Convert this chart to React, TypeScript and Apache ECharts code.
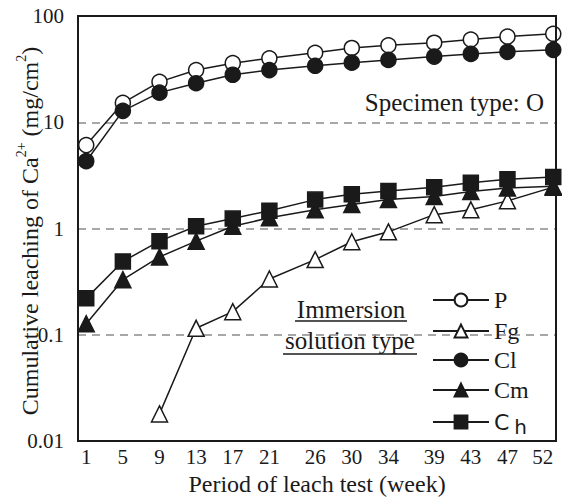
import React, { useEffect, useRef } from "react";
import * as echarts from "echarts";

const weeks = [1, 5, 9, 13, 17, 21, 26, 30, 34, 39, 43, 47, 52];
const tickWeeks = [1, 5, 9, 13, 17, 21, 26, 30, 34, 39, 43, 47, 52];
const valuesP = [6.1, 15.2, 24, 31, 36, 40, 45, 50, 53, 56, 60, 64, 68];
const valuesFg = [null, null, 0.018, 0.115, 0.165, 0.335, 0.51, 0.75, 0.93, 1.35, 1.5, 1.82, 2.45];
const valuesCl = [4.3, 12.8, 19, 23.3, 28, 31, 34, 36.4, 38.6, 41.5, 44, 46, 48];
const valuesCm = [0.127, 0.33, 0.54, 0.76, 1.05, 1.26, 1.5, 1.68, 1.87, 2.0, 2.23, 2.4, 2.5];
const valuesCh = [0.22, 0.49, 0.76, 1.05, 1.24, 1.47, 1.87, 2.1, 2.25, 2.45, 2.7, 2.9, 3.05];
const yTicks = [0.01, 0.1, 1, 10, 100];
const legendNames = ["P", "Fg", "Cl", "Cm", "Ch"];

const SERIF = "Liberation Serif";
const SANS = "DejaVu Sans";
const INK = "#1a1a1a";

function pairs(vals: (number | null)[]) {
  const out: [number, number][] = [];
  weeks.forEach((w, i) => {
    const v = vals[i];
    if (v !== null && v !== undefined) out.push([w, v]);
  });
  return out;
}

export default function App() {
  const ref = useRef<HTMLDivElement>(null);
  useEffect(() => {
    if (!ref.current) return;
    const chart = echarts.init(ref.current, null, { renderer: "svg" });
    const mk = (name: string, vals: (number | null)[], symbol: string, filled: boolean) => ({
      name,
      type: "line",
      data: pairs(vals),
      symbol,
      symbolSize: symbol === "triangle" ? 16 : 15,
      showAllSymbol: true,
      lineStyle: { color: INK, width: 1.5 },
      itemStyle: { color: filled ? INK : "#fff", borderColor: INK, borderWidth: 1.5 },
      emphasis: { disabled: true },
    });
    const legendRowsY = [298, 329, 358, 388, 421];
    const legends = legendNames.map((n, i) => ({
      orient: "vertical",
      left: 427,
      top: legendRowsY[i] - 15,
      itemWidth: 56,
      itemHeight: 16,
      itemGap: 5,
      data: [n],
      formatter: (nm: string) => (nm === "Ch" ? "{k|C}{h|h}" : "{c|" + nm + "}"),
      textStyle: {
        fontFamily: SERIF,
        fontSize: 24,
        color: INK,
        rich: {
          c: { fontFamily: SERIF, fontSize: 24, color: INK, lineHeight: 30, verticalAlign: "middle" },
          k: { fontFamily: SANS, fontSize: 22, color: INK, lineHeight: 30, verticalAlign: "middle" },
          h: {
            fontFamily: SANS,
            fontSize: 20,
            color: INK,
            lineHeight: 30,
            verticalAlign: "bottom",
            padding: [0, 0, 0, 5],
          },
        },
      },
    }));
    chart.setOption({
      animation: false,
      backgroundColor: "#fff",
      grid: {
        left: 78,
        right: 6,
        top: 16,
        bottom: 57,
        containLabel: false,
        outerBoundsMode: "none",
      },
      xAxis: {
        type: "value",
        min: 0.1,
        max: 52.3,
        name: "Period of leach test (week)",
        nameLocation: "middle",
        nameGap: 27,
        nameTextStyle: { fontFamily: SERIF, fontSize: 24, color: INK },
        axisLine: { show: true, lineStyle: { color: INK, width: 2 } },
        axisTick: { show: false },
        splitLine: { show: false },
        axisLabel: {
          customValues: tickWeeks,
          fontFamily: SERIF,
          fontSize: 21,
          color: INK,
          margin: 5,
          alignMaxLabel: "right",
        },
      },
      yAxis: {
        type: "log",
        logBase: 10,
        min: 0.01,
        max: 100,
        axisLine: { show: true, lineStyle: { color: INK, width: 2 } },
        axisTick: { show: false },
        axisLabel: {
          fontFamily: SERIF,
          fontSize: 21,
          color: INK,
          margin: 14,
          formatter: (v: number) => {
            const t = yTicks.find((x) => Math.abs(x - v) / x < 1e-6);
            return t === undefined ? "" : String(t);
          },
        },
        splitLine: {
          show: true,
          lineStyle: { color: "#8a8a8a", type: [8, 6], width: 1.5 },
        },
        minorSplitLine: { show: false },
      },
      legend: legends,
      graphic: [
        {
          type: "rect",
          shape: { x: 78, y: 16, width: 478, height: 425 },
          style: { fill: "none", stroke: INK, lineWidth: 2 },
          silent: true,
          z: 10,
        },
        {
          type: "text",
          x: 28,
          y: 231,
          rotation: Math.PI / 2,
          style: {
            text: "{a|Cumulative leaching of Ca}{s|2+}{a| (mg/cm}{s|2}{a|)}",
            align: "center",
            verticalAlign: "middle",
            fill: INK,
            fontFamily: SERIF,
            fontSize: 24,
            rich: {
              a: { fontFamily: SERIF, fontSize: 24, fill: INK, lineHeight: 28, verticalAlign: "bottom" },
              s: { fontFamily: SERIF, fontSize: 14, fill: INK, lineHeight: 28, verticalAlign: "top" },
            },
          },
        },
        {
          type: "text",
          x: 544,
          y: 102,
          style: {
            text: "Specimen type: O",
            fontFamily: SERIF,
            fontSize: 25,
            fill: INK,
            align: "right",
            verticalAlign: "middle",
          },
        },
        {
          type: "text",
          x: 351,
          y: 309,
          style: {
            text: "Immersion",
            fontFamily: SERIF,
            fontSize: 25,
            fill: INK,
            align: "center",
            verticalAlign: "middle",
          },
        },
        {
          type: "line",
          shape: { x1: 295, y1: 321, x2: 407, y2: 321 },
          style: { stroke: INK, lineWidth: 1.5 },
        },
        {
          type: "text",
          x: 350,
          y: 340,
          style: {
            text: "solution type",
            fontFamily: SERIF,
            fontSize: 25,
            fill: INK,
            align: "center",
            verticalAlign: "middle",
          },
        },
        {
          type: "line",
          shape: { x1: 283, y1: 354, x2: 417, y2: 354 },
          style: { stroke: INK, lineWidth: 1.5 },
        },
      ],
      series: [
        mk("P", valuesP, "circle", false),
        mk("Fg", valuesFg, "triangle", false),
        mk("Cl", valuesCl, "circle", true),
        mk("Cm", valuesCm, "triangle", true),
        mk("Ch", valuesCh, "rect", true),
      ],
    });
    return () => chart.dispose();
  }, []);
  return (
    <div
      ref={ref}
      style={{ position: "absolute", left: 0, top: 0, width: 562, height: 498 }}
    />
  );
}
